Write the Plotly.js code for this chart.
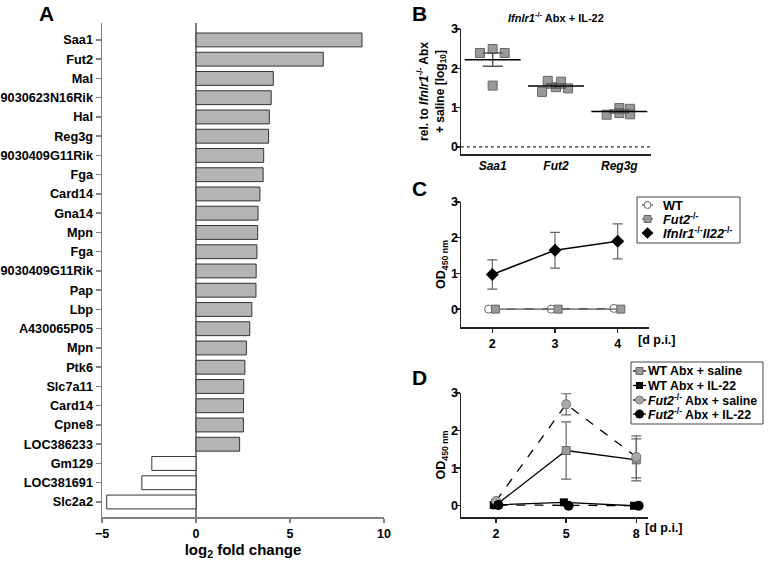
<!DOCTYPE html>
<html>
<head>
<meta charset="utf-8">
<script src="https://cdn.plot.ly/plotly-3.0.1.min.js"></script>
<style>
  html, body { margin: 0; padding: 0; background: #fff; }
  #chart { width: 774px; height: 562px; }
</style>
</head>
<body>
<div id="chart"></div>
<script>
// Panel A: log2 fold change per gene (top to bottom)
const genes = ['Saa1', 'Fut2', 'Mal', '9030623N16Rik', 'Hal', 'Reg3g', '9030409G11Rik', 'Fga',
  'Card14', 'Gna14', 'Mpn', 'Fga', '9030409G11Rik', 'Pap', 'Lbp', 'A430065P05', 'Mpn', 'Ptk6',
  'Slc7a11', 'Card14', 'Cpne8', 'LOC386233', 'Gm129', 'LOC381691', 'Slc2a2'];
const foldChange = [8.83, 6.77, 4.11, 4.0, 3.9, 3.86, 3.6, 3.57, 3.4, 3.3, 3.28, 3.24, 3.2, 3.19,
  2.97, 2.86, 2.68, 2.6, 2.54, 2.53, 2.52, 2.32, -2.35, -2.88, -4.75];

// Panel B: Ifnlr1-/- Abx + IL-22, relative expression [log10]
const bGenes = ['Saa1', 'Fut2', 'Reg3g'];
const saa1Vals = [2.39, 2.49, 2.39, 1.56];
const saa1Jitter = [-0.2, 0, 0.19, 0];
const fut2Vals = [1.40, 1.68, 1.52, 1.66, 1.49];
const fut2Jitter = [-0.22, -0.13, 0, 0.08, 0.19];
const reg3gVals = [0.82, 0.99, 0.86, 0.97, 0.83];
const reg3gJitter = [-0.2, 0, 0, 0.17, 0.17];
const bMeans = [2.22, 1.55, 0.90];
const bSem = [0.17, 0.05, 0.04];

// Panel C: OD450 by day p.i.
const daysC = [2, 3, 4];
const wtC = [0, 0, 0.02];
const fut2C = [0, 0, 0];
const dkoC = [0.97, 1.65, 1.9];
const dkoErr = [0.41, 0.5, 0.49];

// Panel D: OD450 by day p.i.
const daysD = [2, 5, 8];
const wtSal = [0.02, 1.47, 1.22];
const wtSalErr = [0.02, 0.76, 0.56];
const wtIl22 = [0.02, 0.09, 0.0];
const fut2Sal = [0.13, 2.7, 1.30];
const fut2SalErr = [0.03, 0.28, 0.56];
const fut2Il22 = [0.02, 0.0, 0.0];

const FONT = 'Liberation Sans, Arial, sans-serif';
const font = (size, color) => ({ family: FONT, size: size, color: color || '#000', weight: 'bold' });
const shift = (arr, d) => arr.map(v => v + d);

// series styles, shared by the plot and the hand-drawn legends
const st = {
  wt:      { line: { color: '#555', width: 1.2, dash: 'dash' }, marker: { symbol: 'circle', size: 8, color: '#fff', line: { color: '#666', width: 1 } } },
  fut2:    { line: { color: '#555', width: 1.2 }, marker: { symbol: 'square', size: 8, color: '#9a9a9a', line: { color: '#666', width: 1 } } },
  dko:     { line: { color: '#000', width: 1.5 }, marker: { symbol: 'diamond', size: 10, color: '#000' } },
  wtSal:   { line: { color: '#000', width: 1.3 }, marker: { symbol: 'square', size: 8, color: '#9a9a9a', line: { color: '#666', width: 1 } } },
  wtIl:    { line: { color: '#000', width: 1.3 }, marker: { symbol: 'square', size: 8, color: '#000' } },
  fSal:    { line: { color: '#000', width: 1.3, dash: 'dash' }, marker: { symbol: 'circle', size: 9, color: '#a8a8a8', line: { color: '#777', width: 1 } } },
  fIl:     { line: { color: '#000', width: 1.3, dash: 'dash' }, marker: { symbol: 'circle', size: 10, color: '#000' } }
};

const traces = [];
const annotations = [];
const shapes = [];

// A
traces.push({
  type: 'bar', orientation: 'h', xaxis: 'x', yaxis: 'y',
  x: foldChange, y: genes.map((g, i) => i), width: 0.72,
  marker: { color: foldChange.map(v => v > 0 ? '#b4b4b4' : '#ffffff'), line: { color: '#333', width: 1 } }
});

// B
const bSets = [[saa1Vals, saa1Jitter], [fut2Vals, fut2Jitter], [reg3gVals, reg3gJitter]];
bSets.forEach(([vals, jit], k) => {
  traces.push({
    type: 'scatter', mode: 'markers', xaxis: 'x2', yaxis: 'y2',
    x: jit.map(j => k + j), y: vals,
    marker: { symbol: 'square', size: 9, color: '#9a9a9a', line: { color: '#666', width: 1 } }
  });
});
traces.push({
  type: 'scatter', mode: 'markers', xaxis: 'x2', yaxis: 'y2',
  x: [0, 1, 2], y: bMeans,
  marker: { symbol: 'line-ew', size: 40, color: '#000', line: { color: '#000', width: 1.5 } },
  error_y: { type: 'data', array: bSem, color: '#555', thickness: 1.5, width: 10 }
});

function series(ax, x, y, s, err) {
  const t = { type: 'scatter', mode: 'lines+markers', xaxis: 'x' + ax, yaxis: 'y' + ax, x: x, y: y, line: s.line, marker: s.marker };
  if (err) t.error_y = { type: 'data', array: err, color: '#666', thickness: 1.2, width: 5 };
  return t;
}

// C
traces.push(series(3, shift(daysC, -0.06), wtC, st.wt));
traces.push(series(3, shift(daysC, 0.05), fut2C, st.fut2));
traces.push(series(3, daysC, dkoC, st.dko, dkoErr));

// D
traces.push(series(4, daysD, wtSal, st.wtSal, wtSalErr));
traces.push(series(4, shift(daysD, -0.1), wtIl22, st.wtIl));
traces.push(series(4, daysD, fut2Sal, st.fSal, fut2SalErr));
traces.push(series(4, shift(daysD, 0.1), fut2Il22, st.fIl));

// compact GraphPad-style legends on their own hidden axes (pixel units)
function addLegend(ax, entries, rowY, sx0, sx1, textX, size) {
  shapes.push({ type: 'rect', xref: 'x' + ax + ' domain', yref: 'y' + ax + ' domain', x0: 0, x1: 1, y0: 0, y1: 1,
    line: { color: '#444', width: 1 }, fillcolor: '#fff', layer: 'below' });
  entries.forEach((e, i) => {
    const y = rowY[i];
    traces.push({ type: 'scatter', mode: 'lines', xaxis: 'x' + ax, yaxis: 'y' + ax, x: [sx0, sx1], y: [y, y],
      line: { color: e.s.line.color, width: e.s.line.width } });
    traces.push({ type: 'scatter', mode: 'markers', xaxis: 'x' + ax, yaxis: 'y' + ax, x: [(sx0 + sx1) / 2], y: [y],
      marker: Object.assign({}, e.s.marker, { size: e.s.marker.size - 1 }) });
    annotations.push({ text: e.name, xref: 'x' + ax, yref: 'y' + ax, x: textX, y: y, xanchor: 'left', yanchor: 'middle',
      showarrow: false, borderpad: 0, font: font(size) });
  });
}
addLegend(5, [
  { name: 'WT', s: st.wt },
  { name: '<i>Fut2</i><sup>-/-</sup>', s: st.fut2 },
  { name: '<i>Ifnlr1</i><sup>-/-</sup><i>Il22</i><sup>-/-</sup>', s: st.dko }
], [8, 22, 36], 5, 16, 25, 12.8);
addLegend(6, [
  { name: 'WT Abx + saline', s: st.wtSal },
  { name: 'WT Abx + IL-22', s: st.wtIl },
  { name: '<i>Fut2</i><sup>-/-</sup> Abx + saline', s: st.fSal },
  { name: '<i>Fut2</i><sup>-/-</sup> Abx + IL-22', s: st.fIl }
], [9, 23.5, 38, 52], 2, 15, 16, 12.3);

traces.forEach(t => { t.showlegend = false; t.hoverinfo = 'skip'; });

const axisBase = {
  showgrid: false, zeroline: false, showline: true, linecolor: '#222', linewidth: 1.5,
  ticks: 'outside', ticklen: 4, tickwidth: 1.5, tickcolor: '#222', tickfont: font(12.5), fixedrange: true
};
const hiddenAxis = { visible: false, fixedrange: true, showgrid: false, zeroline: false };
const px = v => v / 774;
const py = v => 1 - v / 562;

const paperText = (text, x, y, size, anchor, vanchor) => ({
  text: text, x: px(x), y: py(y), xref: 'paper', yref: 'paper', xanchor: anchor || 'center', yanchor: vanchor || 'middle',
  showarrow: false, font: font(size)
});
annotations.push(
  paperText('A', 46, 0, 21, 'center', 'top'),
  paperText('B', 419, 0, 21, 'center', 'top'),
  paperText('C', 419, 188, 21),
  paperText('D', 419, 377, 21),
  paperText('<i>Ifnlr1</i><sup>-/-</sup> Abx + IL-22', 556, 17, 11),
  paperText('[d p.i.]', 636, 340, 12.5, 'left'),
  paperText('[d p.i.]', 643, 528, 12.5, 'left')
);
shapes.push({ type: 'line', xref: 'x2 domain', yref: 'y2', x0: 0, x1: 1, y0: 0, y1: 0,
  line: { color: '#333', width: 1.2, dash: 'dot' } });

const layout = {
  width: 774, height: 562,
  margin: { l: 0, r: 0, t: 0, b: 0 },
  paper_bgcolor: '#fff', plot_bgcolor: 'rgba(0,0,0,0)',
  font: font(12),
  showlegend: false,
  xaxis: Object.assign({}, axisBase, {
    domain: [px(102), px(384)], range: [-5, 10], tickvals: [-5, 0, 5, 10], anchor: 'y',
    linecolor: '#808080', tickcolor: '#808080',
    zeroline: true, zerolinecolor: '#808080', zerolinewidth: 1.5,
    title: { text: 'log<sub>2</sub> fold change', font: font(15), standoff: 5 }
  }),
  yaxis: Object.assign({}, axisBase, {
    domain: [py(517), py(23)], range: [24.78, -0.88], anchor: 'x',
    tickvals: genes.map((g, i) => i), ticktext: genes, tickfont: font(12.7),
    linecolor: '#808080', tickcolor: '#808080', ticklen: 5
  }),
  xaxis2: Object.assign({}, axisBase, {
    domain: [px(461), px(651)], range: [-0.5, 2.5], anchor: 'y2', ticks: '', tickfont: font(12),
    tickvals: [0, 1, 2], ticktext: bGenes.map(g => '<i>' + g + '</i>')
  }),
  yaxis2: Object.assign({}, axisBase, {
    domain: [py(154), py(29)], range: [-0.18, 3], anchor: 'x2', tickvals: [0, 1, 2, 3], ticklabelstandoff: -5,
    title: { text: 'rel. to <i>Ifnlr1</i><sup>-/-</sup> Abx<br>+ saline [log<sub>10</sub>]', font: font(12), standoff: 4 }
  }),
  xaxis3: Object.assign({}, axisBase, {
    domain: [px(461), px(649)], range: [1.5, 4.5], anchor: 'y3', tickvals: [2, 3, 4]
  }),
  yaxis3: Object.assign({}, axisBase, {
    domain: [py(327), py(202)], range: [-0.5, 3], anchor: 'x3', tickvals: [0, 1, 2, 3], ticklabelstandoff: -5,
    title: { text: 'OD<sub>450 nm</sub>', font: font(12.5), standoff: 2 }
  }),
  xaxis4: Object.assign({}, axisBase, {
    domain: [px(461), px(648)], range: [0.5, 8.5], anchor: 'y4', tickvals: [2, 5, 8]
  }),
  yaxis4: Object.assign({}, axisBase, {
    domain: [py(517), py(393)], range: [-0.3, 3], anchor: 'x4', tickvals: [0, 1, 2, 3], ticklabelstandoff: -5,
    title: { text: 'OD<sub>450 nm</sub>', font: font(12.5), standoff: 2 }
  }),
  xaxis5: Object.assign({}, hiddenAxis, { domain: [px(637), px(740)], range: [0, 103], anchor: 'y5' }),
  yaxis5: Object.assign({}, hiddenAxis, { domain: [py(243), py(197)], range: [46, 0], anchor: 'x5' }),
  xaxis6: Object.assign({}, hiddenAxis, { domain: [px(631), px(763)], range: [0, 132], anchor: 'y6' }),
  yaxis6: Object.assign({}, hiddenAxis, { domain: [py(424), py(362)], range: [62, 0], anchor: 'x6' }),
  shapes: shapes,
  annotations: annotations
};

Plotly.newPlot('chart', traces, layout, { displayModeBar: false, staticPlot: true });
</script>
</body>
</html>
